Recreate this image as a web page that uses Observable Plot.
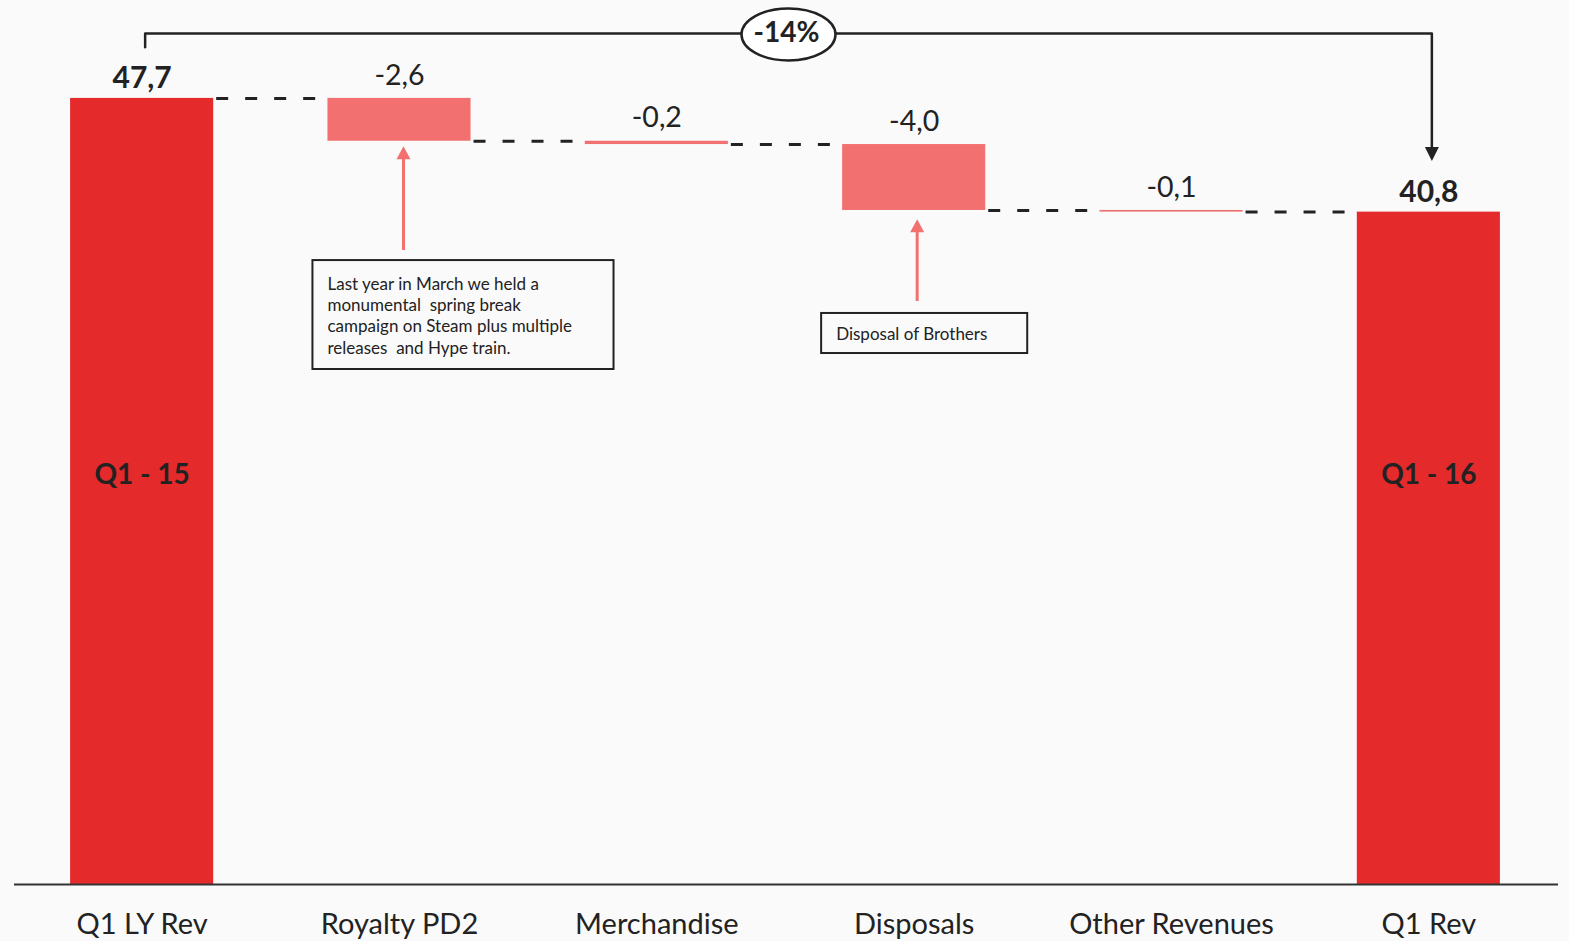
<!DOCTYPE html>
<html><head><meta charset="utf-8">
<script src="https://cdn.jsdelivr.net/npm/d3@7"></script>
<script src="https://cdn.jsdelivr.net/npm/@observablehq/plot@0.6"></script>
<style>html,body{margin:0;padding:0;background:#fafafa;overflow:hidden}svg{display:block}</style>
</head><body><div id="chart"></div>
<script>
// ---- data ----
const categories = ["Q1 LY Rev", "Royalty PD2", "Merchandise", "Disposals", "Other Revenues", "Q1 Rev"];
const values = [47.7, -2.6, -0.2, -4.0, -0.1, 40.8];
const kinds = ["total", "delta", "delta", "delta", "delta", "total"];
const barCaptions = ["Q1 - 15", "", "", "", "", "Q1 - 16"];
const noteCategories = ["Royalty PD2", "Disposals"];
const noteTexts = [
  "Last year in March we held a\nmonumental  spring break\ncampaign on Steam plus multiple\nreleases  and Hype train.",
  "Disposal of Brothers"
];

// ---- derived ----
const r1 = v => Math.round(v * 10) / 10;
let run = 0;
const bars = categories.map((c, i) => {
  const v = values[i];
  let y1, y2;
  if (kinds[i] === "total") { y1 = 0; y2 = v; run = v; }
  else { y1 = run; y2 = r1(run + v); run = y2; }
  return {cat: c, v, y1, y2, top: Math.max(y1, y2), kind: kinds[i], caption: barCaptions[i]};
});
const connectors = bars.slice(0, -1).map((b, i) => ({a: b.cat, b: bars[i + 1].cat, level: b.y2}));
const fmt = v => v.toFixed(1).replace(".", ",");
const first = values[0], last = values[values.length - 1];
const pctLabel = Math.round((last - first) / first * 100) + "%";
const c0 = categories[0], cN = categories[categories.length - 1];

// annotation layout (y in data units)
const noteLayout = {
  "Royalty PD2": {tail: 38.47, headBase: 44.0, tip: 44.79, boxTop: 37.86, boxBottom: 31.25, insetLeft: -15, insetRight: -143, textDx: -72, arrowDx: 4},
  "Disposals":   {tail: 35.38, headBase: 39.56, tip: 40.36, boxTop: 34.65, boxBottom: 32.22, insetLeft: -21, insetRight: -42, textDx: -78, arrowDx: 3}
};
const notes = noteCategories.map((c, i) => ({cat: c, text: noteTexts[i], ...noteLayout[c]}));

// ---- scales ----
const xOpts = {type: "band", domain: categories, range: [14, 1556], paddingInner: 0.444, paddingOuter: 0.218, round: false};
const xs = Plot.scale({x: xOpts});
const bw = xs.bandwidth;
const midDx = (xs.apply(cN) - xs.apply(c0)) / 2;

// symbols
const triUp = {draw(ctx) { ctx.moveTo(0, 0); ctx.lineTo(7, 13); ctx.lineTo(-7, 13); ctx.closePath(); }};
const triDown = {draw(ctx) { ctx.moveTo(0, 0); ctx.lineTo(7, -14); ctx.lineTo(-7, -14); ctx.closePath(); }};
const ellipse = (rx, ry) => ({draw(ctx) {
  const k = 0.5523;
  ctx.moveTo(rx, 0);
  ctx.bezierCurveTo(rx, ry * k, rx * k, ry, 0, ry);
  ctx.bezierCurveTo(-rx * k, ry, -rx, ry * k, -rx, 0);
  ctx.bezierCurveTo(-rx, -ry * k, -rx * k, -ry, 0, -ry);
  ctx.bezierCurveTo(rx * k, -ry, rx, -ry * k, rx, 0);
  ctx.closePath();
}});

const bracketTop = first + 3.94, bracketStub = first + 3.1, bracketTip = last + 3.1, bracketHeadBase = last + 3.8;
const bracket = [
  {x: c0, y: bracketStub}, {x: c0, y: bracketTop}, {x: cN, y: bracketTop}, {x: cN, y: bracketHeadBase}
];

const chart = Plot.plot({
  width: 1569, height: 941,
  marginTop: 60, marginBottom: 57, marginLeft: 14, marginRight: 11,
  x: xOpts,
  y: {domain: [0, 50], axis: null},
  style: {background: "#fafafa", fontFamily: "Lato, sans-serif", color: "#222", overflow: "visible"},
  marks: [
    Plot.ruleY(connectors, {x1: "a", x2: "b", y: "level", insetLeft: bw + 3, insetRight: bw + 2,
      stroke: "#222", strokeWidth: 3, strokeDasharray: "12,17"}),
    Plot.barY(bars.filter(d => d.kind === "total"), {x: "cat", y1: "y1", y2: "y2", fill: "#e52a2b"}),
    Plot.barY(bars.filter(d => d.kind === "delta"), {x: "cat", y1: "y1", y2: "y2", fill: "#f27070"}),
    Plot.ruleY([0], {stroke: "#333", strokeWidth: 2}),
    Plot.axisX({tickSize: 0, tickPadding: 29, fontSize: 29, label: null, fill: "#222"}),
    Plot.text(bars.filter(d => d.kind === "total"), {x: "cat", y: "top", text: d => fmt(d.v), dy: -20,
      fontSize: 30, fontWeight: "bold", fill: "#222"}),
    Plot.text(bars.filter(d => d.kind === "delta"), {x: "cat", y: "top", text: d => fmt(d.v), dy: -23,
      fontSize: 28.5, fill: "#222"}),
    Plot.text(bars.filter(d => d.caption), {x: "cat", text: "caption", frameAnchor: "middle", dy: 3,
      fontSize: 28, fontWeight: "bold", fill: "#222"}),
    // bracket with percentage
    Plot.line(bracket, {x: "x", y: "y", stroke: "#222", strokeWidth: 2.5, dx: 3}),
    Plot.dot([{x: cN, y: bracketTip}], {x: "x", y: "y", symbol: triDown, fill: "#222", stroke: "none", dx: 3}),
    Plot.dot([{x: c0, y: bracketTop}], {x: "x", y: "y", symbol: ellipse(47, 26), fill: "#fff", stroke: "#222", strokeWidth: 2.5, dx: midDx + 3, dy: 1}),
    Plot.text([{x: c0, y: bracketTop}], {x: "x", y: "y", text: () => pctLabel, dx: midDx + 1, fontSize: 28, fontWeight: "bold", fill: "#222"}),
    // annotations
    ...notes.flatMap(n => [
      Plot.ruleX([n], {x: "cat", y1: "tail", y2: "headBase", stroke: "#f27070", strokeWidth: 3, dx: n.arrowDx}),
      Plot.dot([n], {x: "cat", y: "tip", symbol: triUp, fill: "#f27070", stroke: "none", dx: n.arrowDx}),
      Plot.barY([n], {x: "cat", y1: "boxBottom", y2: "boxTop", insetLeft: n.insetLeft, insetRight: n.insetRight,
        fill: "none", stroke: "#222", strokeWidth: 2}),
      Plot.text([n], {x: "cat", y: d => (d.boxTop + d.boxBottom) / 2, text: "text", textAnchor: "start", dx: n.textDx,
        fontSize: 17, lineHeight: 1.25, fill: "#222"})
    ])
  ]
});
document.getElementById("chart").appendChild(chart);
</script>
</body></html>
